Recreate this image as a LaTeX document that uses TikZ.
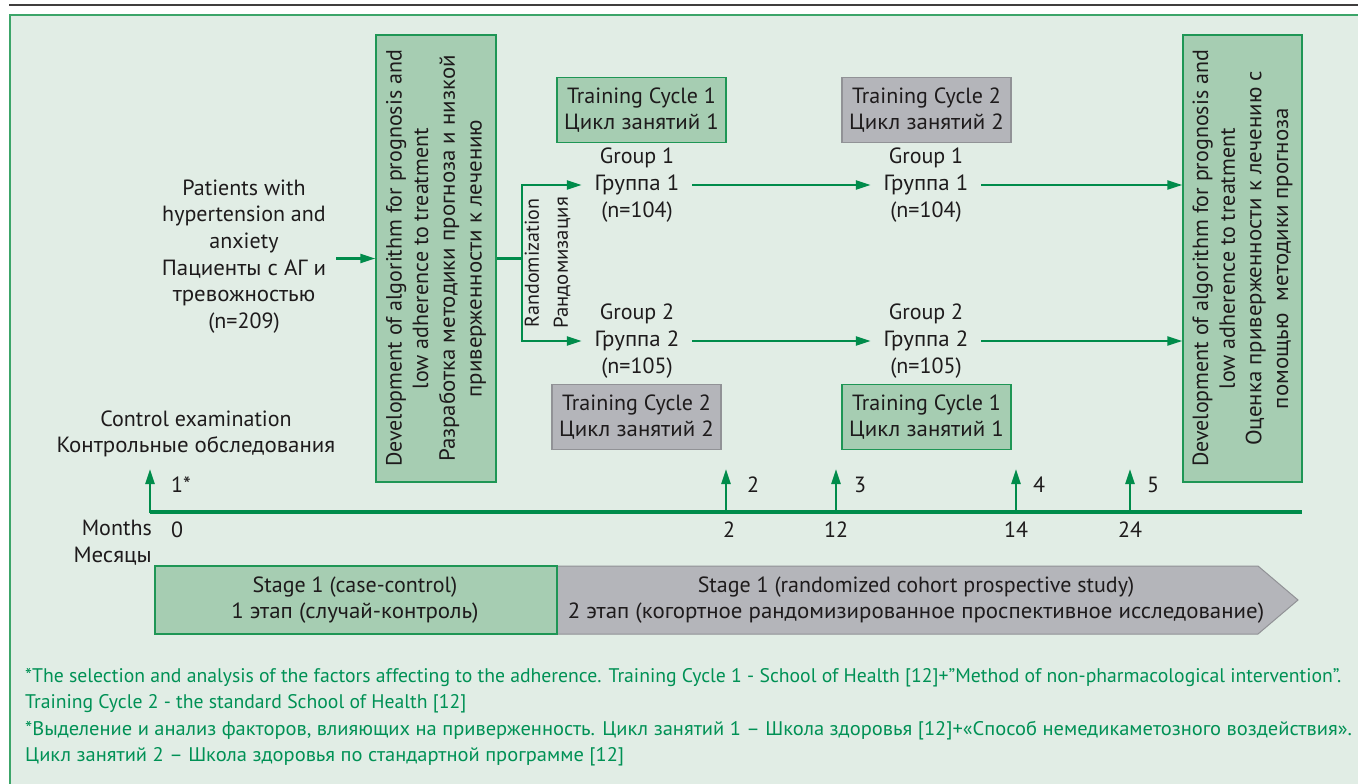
\documentclass[tikz,border=0pt]{standalone}
\usepackage{fontspec}
\setmainfont{PT Sans}
\newfontfamily\rufont{PT Sans}[FakeStretch=1.04]
\newcommand\ru[1]{{\rufont #1}}
\usetikzlibrary{arrows.meta}
\definecolor{bgc}{RGB}{225,237,229}
\definecolor{framec}{RGB}{60,165,105}
\definecolor{boxg}{RGB}{166,205,178}
\definecolor{boxgb}{RGB}{30,150,85}
\definecolor{boxy}{RGB}{180,181,186}
\definecolor{boxyb}{RGB}{145,146,150}
\definecolor{arr}{RGB}{0,140,75}
\definecolor{txt}{RGB}{30,27,28}
\definecolor{fnc}{RGB}{0,145,85}
\tikzset{
  lbl/.style={font=\fontsize{22}{26.7}\selectfont, text=txt, align=center, inner sep=0pt},
  fnote/.style={font=\fontsize{19.7}{24}\selectfont, text=fnc, anchor=west, inner sep=0pt},
  gbox/.style={lbl, draw=boxgb, fill=boxg, line width=1.3pt},
  ybox/.style={lbl, draw=boxyb, fill=boxy, line width=1.3pt},
  grp/.style={lbl, minimum width=110pt},
  conn/.style={draw=arr, line width=2.3pt, -{Triangle[length=15pt,width=9pt]}},
  plain/.style={draw=arr, line width=2.3pt},
}
\begin{document}
\begin{tikzpicture}[x=1pt,y=-1pt]
\useasboundingbox (0,0) rectangle (1358,784);
% frame
\fill[bgc] (10,15) rectangle (1370,800);
\draw[framec, line width=1.5pt] (1370,15) -- (10,15) -- (10,800);
\draw[txt!85, line width=2pt] (9,5) -- (1358,5);

% left text
\node[lbl, inner xsep=10pt] (pat) at (244,256.5) {Patients with\\hypertension and\\anxiety\\\ru{Пациенты с АГ и}\\\ru{тревожностью}\\(n=209)};

% vertical boxes
\node[gbox, rotate=90, minimum width=447pt, minimum height=120pt] (dev1) at (436,258.5)
  {Development of algorithm for prognosis and\\low adherence to treatment\\\ru{Разработка методики прогноза и низкой}\\\ru{приверженности к лечению}};
\node[gbox, rotate=90, minimum width=447pt, minimum height=119pt] (dev2) at (1242.5,258.5)
  {Development of algorithm for prognosis and\\low adherence to treatment\\\ru{Оценка приверженности к лечению с}\\\ru{помощью\ \ методики прогноза}};

% randomization
\node[lbl, rotate=90, font=\fontsize{20}{29}\selectfont] (rand) at (547.5,263) {Randomization\\\ru{Рандомизация}};

% groups
\node[grp] (g1a) at (637,185) {Group 1\\\ru{Группа 1}\\(n=104)};
\node[grp] (g2a) at (637,341) {Group 2\\\ru{Группа 2}\\(n=105)};
\node[grp] (g1b) at (926,185) {Group 1\\\ru{Группа 1}\\(n=104)};
\node[grp] (g2b) at (926,341) {Group 2\\\ru{Группа 2}\\(n=105)};

% training boxes
\node[gbox, minimum width=169pt, minimum height=65pt] (tc1a) at (641.5,110) {Training Cycle 1\\\ru{Цикл занятий 1}};
\node[ybox, minimum width=169pt, minimum height=65pt] (tc2a) at (926.5,110) {Training Cycle 2\\\ru{Цикл занятий 2}};
\node[ybox, minimum width=169pt, minimum height=65pt] (tc2b) at (636.5,417) {Training Cycle 2\\\ru{Цикл занятий 2}};
\node[gbox, minimum width=169pt, minimum height=65pt] (tc1b) at (926.5,417) {Training Cycle 1\\\ru{Цикл занятий 1}};

% connectors
\draw[conn] (pat.east |- dev1.north) -- (dev1.north);
\coordinate (br) at (522,258.5);
\draw[plain] (dev1.south) -- (br);
\draw[conn] (br) |- (g1a.west);
\draw[conn] (br) |- (g2a.west);
\draw[conn] (g1a.east) -- (g1b.west);
\draw[conn] (g2a.east) -- (g2b.west);
\draw[conn] (g1b.east) -- (g1b.east -| dev2.north);
\draw[conn] (g2b.east) -- (g2b.east -| dev2.north);

% control examination
\node[lbl] (ctrl) at (196,434) {Control examination\\\ru{Контрольные обследования}};

% timeline
\coordinate (t0) at (150,512);
\coordinate (tE) at (1302,512);
\draw[arr, line width=3.5pt] (t0) -- (tE);
\foreach \n/\x in {1/150,2/726,3/836,4/1016,5/1130}{
  \coordinate (tb\n) at (\x,513);
  \coordinate (tt\n) at (\x,469);
  \draw[conn] (tb\n) -- (tt\n);
}
\node[lbl] (m1) at (181,485) {1*};
\node[lbl] (m2) at (753,485) {2};
\node[lbl] (m3) at (860,485) {3};
\node[lbl] (m4) at (1039,485) {4};
\node[lbl] (m5) at (1153,485) {5};

\node[lbl, align=right, anchor=east] (months) at (152,543) {Months\\\ru{Месяцы}};
\node[lbl] (x0) at (177,530) {0};
\node[lbl] (x2) at (729,530) {2};
\node[lbl] (x12) at (836,530) {12};
\node[lbl] (x14) at (1016,530) {14};
\node[lbl] (x24) at (1130,530) {24};

% stage bar
\draw[boxyb, fill=boxy, line width=1pt] (557,566) -- (1258,566) -- (1298,600) -- (1258,634) -- (557,634) -- cycle;
\draw[boxgb, fill=boxg, line width=1.3pt] (155,566) rectangle (557,634);
\node[lbl] (s1) at (355,600) {Stage 1 (case-control)\\\ru{1 этап (случай-контроль)}};
\node[lbl] (s2) at (916,600) {Stage 1 (randomized cohort prospective study)\\\ru{2 этап (когортное рандомизированное проспективное исследование)}};

% footnotes
\node[fnote] (f1) at (25,678) {*The selection and analysis of the factors affecting to the adherence. Training Cycle 1 - School of Health [12]+\char34Method of non-pharmacological intervention\char34.};
\node[fnote] (f2) at (25,704) {Training Cycle 2 - the standard School of Health [12]};
\node[fnote] (f3) at (25,731) {\ru{*Выделение и анализ факторов, влияющих на приверженность. Цикл занятий 1 – Школа здоровья [12]+«Способ немедикаметозного воздействия».}};
\node[fnote] (f4) at (25,757) {\ru{Цикл занятий 2 – Школа здоровья по стандартной программе [12]}};
\end{tikzpicture}
\end{document}
